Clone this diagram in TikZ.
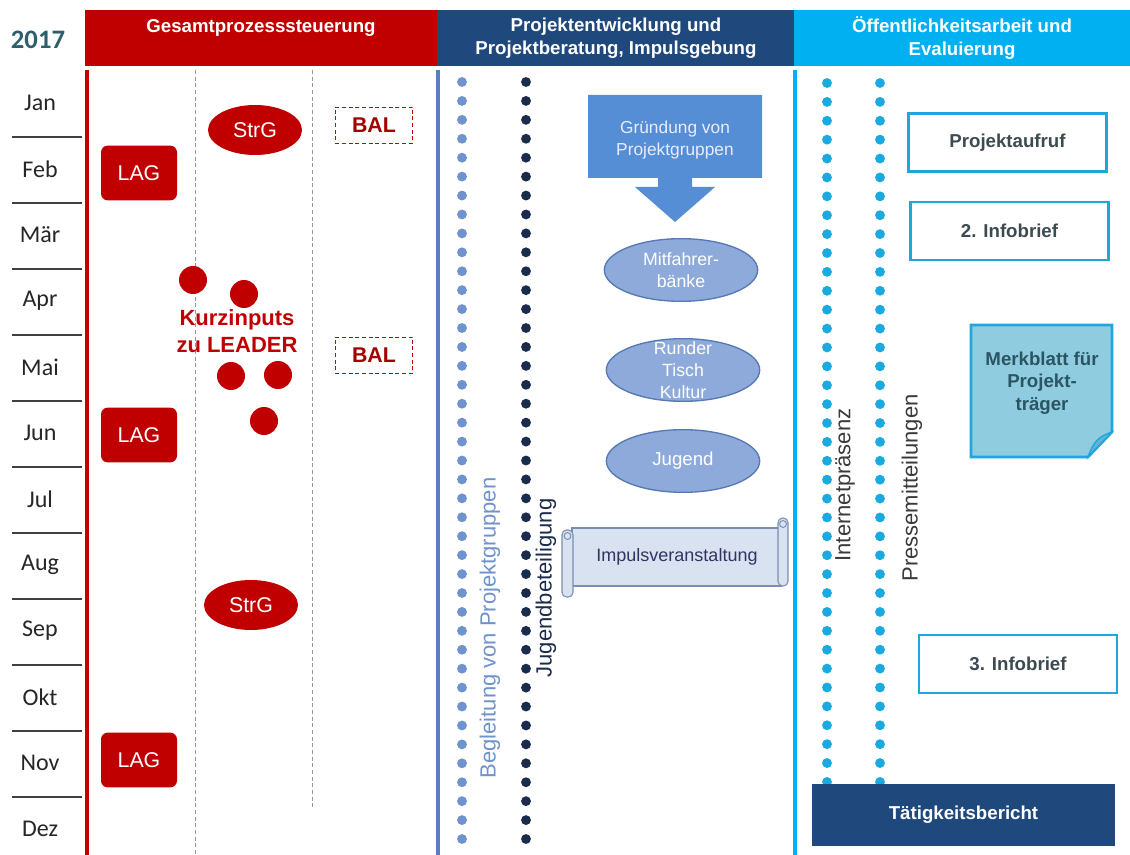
\documentclass[tikz,border=0pt]{standalone}
\usepackage{fontspec}
\setmainfont{Liberation Sans}
\newfontfamily\calfont{Carlito}
\usetikzlibrary{shapes.geometric}
\definecolor{redc}{HTML}{C00000}
\definecolor{navyc}{HTML}{1F497D}
\definecolor{cyanc}{HTML}{00B0F0}
\definecolor{cyanb}{HTML}{1FA6DC}
\definecolor{steelc}{HTML}{5B7DB8}
\definecolor{dotA}{HTML}{6F93CC}
\definecolor{dotB}{HTML}{1A2B4C}
\definecolor{dotC}{HTML}{1AAAE0}
\definecolor{yearc}{HTML}{2F5E6E}
\definecolor{arrowc}{HTML}{558ED5}
\definecolor{ellfill}{HTML}{8EAADB}
\definecolor{elldraw}{HTML}{5479B5}
\definecolor{scrollfill}{HTML}{D9E2F0}
\definecolor{scrolldraw}{HTML}{7A8FB0}
\definecolor{boxtext}{HTML}{3C4B50}
\definecolor{notefill}{HTML}{8FCCE0}
\definecolor{notefold}{HTML}{5FB3D3}
\definecolor{greytext}{HTML}{3A3A3A}
\tikzset{
  hdr/.style={text=white, font=\bfseries\fontsize{14}{17.5}\selectfont, align=center, inner sep=0pt},
  month/.style={font=\calfont\fontsize{18}{20}\selectfont, text=black!85, inner sep=0pt},
  lagbox/.style={fill=redc, rounded corners=5pt, minimum width=57pt, minimum height=41pt, text=white, font=\fontsize{16}{18}\selectfont, inner sep=0pt},
  strg/.style={ellipse, fill=redc, minimum width=70.5pt, minimum height=37.5pt, text=white, font=\fontsize{16}{18}\selectfont, inner sep=0pt},
  bal/.style={draw=redc, densely dashed, line width=0.6pt, fill=white, minimum width=58pt, minimum height=27pt, text=redc!85!black, font=\bfseries\fontsize{16}{18}\selectfont, inner sep=0pt},
  kdot/.style={circle, fill=redc, minimum size=21pt, inner sep=0pt},
  ell/.style={ellipse, fill=ellfill, draw=elldraw, line width=1pt, minimum width=115pt, minimum height=47pt, inner sep=0pt},
  elltext/.style={text=white, font=\fontsize{13.3}{16.5}\selectfont, align=center, inner sep=0pt},
  scroll/.style={fill=scrollfill, draw=scrolldraw, line width=0.8pt},
  cbox/.style={draw=cyanb, line width=2.2pt, fill=white, text=boxtext, font=\bfseries\fontsize{14}{17}\selectfont, inner sep=0pt},
  vtext/.style={rotate=90, font=\fontsize{16.5}{18}\selectfont, inner sep=0pt},
}
\begin{document}
\begin{tikzpicture}[x=0.75pt,y=-0.75pt]
\useasboundingbox[fill=white] (0,0) rectangle (1130,855);

% headers
\fill[redc] (85,10) rectangle (437,66);
\fill[navyc] (437,10) rectangle (794,66);
\fill[cyanc] (794,10) rectangle (1130,66);
\node[hdr] (h1) at (261,28) {Gesamtprozesssteuerung};
\node[hdr] (h2) at (616,38) {Projektentwicklung und\\Projektberatung, Impulsgebung};
\node[hdr] (h3) at (962,38) {Öffentlichkeitsarbeit und\\Evaluierung};
\node[font=\calfont\bfseries\fontsize{20}{22}\selectfont, text=yearc, inner sep=0pt] (year) at (38,40) {2017};

% months
\foreach \m [count=\i from 0] in {Jan,Feb,Mär,Apr,Mai,Jun,Jul,Aug,Sep,Okt,Nov,Dez}{
  \node[month] (m\i) at (40,{103+66*\i}) {\m};
}
\foreach \i in {0,...,10}{
  \draw[black!75, line width=1pt] (12,{137+66*\i}) -- (82,{137+66*\i});
}

% column separators
\draw[redc, line width=2.4pt] (87,70) -- (87,855);
\draw[steelc, line width=2.4pt] (438,70) -- (438,855);
\draw[cyanc, line width=2.4pt] (795,70) -- (795,855);
\draw[black!40, dash pattern=on 3pt off 2pt, line width=0.6pt] (195,70) -- (195,855);
\draw[black!40, dash pattern=on 3pt off 2pt, line width=0.6pt] (312,70) -- (312,807);

% Gesamtprozesssteuerung
\node[lagbox] (lag1) at (139,173) {LAG};
\node[lagbox] (lag2) at (139,435) {LAG};
\node[lagbox] (lag3) at (139,760) {LAG};
\node[strg] (strg1) at (255,130) {StrG};
\node[strg] (strg2) at (251,605) {StrG};
\node[bal] (bal1) at (374,125) {BAL};
\node[bal] (bal2) at (374,355) {BAL};
\node[kdot] (k1) at (193,280) {};
\node[kdot] (k2) at (244,294) {};
\node[kdot] (k3) at (231,376) {};
\node[kdot] (k4) at (278,375) {};
\node[kdot] (k5) at (264,421) {};
\node[text=redc, font=\bfseries\fontsize{16.5}{20}\selectfont, align=center, inner sep=0pt] (kz) at (237,331) {Kurzinputs\\zu LEADER};

% Projektentwicklung dots
\foreach \i in {0,...,40}{
  \fill[dotA] (462,{82+18.925*\i}) circle (3.7pt);
  \fill[dotB] (526,{82+18.925*\i}) circle (3.7pt);
}
\node[vtext, text=dotA] (beg) at (490,628) {Begleitung von Projektgruppen};
\node[vtext, text=dotB] (jug) at (546,588) {Jugendbeteiligung};

% Gruendung arrow
\fill[arrowc] (588,95) -- (762,95) -- (762,178) -- (692,178) -- (692,187) -- (715,187) -- (675,222) -- (635,187) -- (658,187) -- (658,178) -- (588,178) -- cycle;
\node[text=white!92!blue, font=\fontsize{13}{17}\selectfont, align=center, inner sep=0pt] (gp) at (675,140) {Gründung von\\Projektgruppen};

% ellipses
\node[ell] (mit) at (681,270) {};
\node[elltext] (mitt) at (mit) {Mitfahrer-\\bänke};
\node[ell] (rt) at (683,370) {};
\node[elltext] (rtt) at (rt) {Runder\\Tisch\\Kultur};
\node[ell] (jg) at (683,461) {};
\node[elltext, font=\fontsize{14}{16}\selectfont] (jgt) at (jg) {Jugend};

% scroll
\filldraw[scroll] (572,528) rectangle (781,586);
\filldraw[scroll, rounded corners=3.5pt] (562,530) rectangle (573,597);
\draw[scrolldraw, line width=0.7pt] (567.5,536) circle (2.6pt);
\filldraw[scroll, rounded corners=3.5pt] (778,518) rectangle (788,586);
\draw[scrolldraw, line width=0.7pt] (783,524) circle (2.6pt);
\node[text=black!70!blue!60!gray, font=\fontsize{13.5}{16}\selectfont, inner sep=0pt] (imp) at (677,557) {Impulsveranstaltung};

% Oeffentlichkeitsarbeit dots
\foreach \i in {0,...,37}{
  \fill[dotC] (827,{83+18.89*\i}) circle (3.7pt);
  \fill[dotC] (880,{83+18.89*\i}) circle (3.7pt);
}
\node[vtext, text=greytext] (inet) at (845,485) {Internetpräsenz};
\node[vtext, text=greytext] (press) at (912,488) {Pressemitteilungen};

\node[cbox, minimum width=149pt, minimum height=44pt] (pa) at (1007.5,142.5) {Projektaufruf};
\node[cbox, minimum width=148pt, minimum height=43.5pt] (ib2) at (1009.5,231) {2. Infobrief};
\node[cbox, minimum width=148.5pt, minimum height=43.5pt] (ib3) at (1018,664) {3. Infobrief};

% Merkblatt note
\filldraw[fill=notefill, draw=cyanb, line width=2pt] (971,325) -- (1112,325) -- (1112,432) -- (1088,457) -- (971,457) -- cycle;
\filldraw[fill=notefold, draw=cyanb, line width=1pt] (1088,457) -- (1112,432) .. controls (1100,436) and (1094,440) .. (1088,457) -- cycle;
\node[text=yearc!90!black, font=\bfseries\fontsize{14}{17}\selectfont, align=center, inner sep=0pt] (mb) at (1042,383) {Merkblatt für\\Projekt-\\träger};

\node[fill=navyc, minimum width=227pt, minimum height=46.5pt, text=white, font=\bfseries\fontsize{14}{17}\selectfont, inner sep=0pt] (tb) at (963.5,815) {Tätigkeitsbericht};
\end{tikzpicture}
\end{document}
